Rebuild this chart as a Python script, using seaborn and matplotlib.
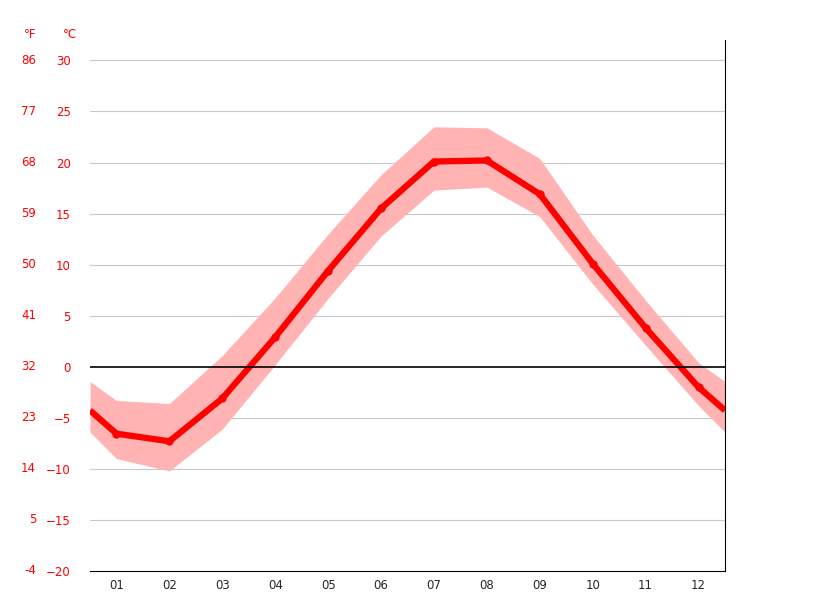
import numpy as np
import matplotlib
matplotlib.use("Agg")
import matplotlib.pyplot as plt
import matplotlib.transforms as mtrans
import seaborn as sns

months = np.arange(1, 13)
month_labels = ["01", "02", "03", "04", "05", "06", "07", "08", "09", "10", "11", "12"]
temp_avg = [-6.55, -7.3, -3.1, 2.9, 9.4, 15.5, 20.1, 20.2, 16.9, 10.1, 3.8, -2.0]
temp_max = [-3.3, -3.6, 1.1, 6.75, 13.0, 18.8, 23.5, 23.4, 20.4, 12.9, 6.5, 0.4]
temp_min = [-9.0, -10.2, -6.1, 0.2, 6.7, 12.8, 17.3, 17.6, 14.7, 8.1, 2.1, -3.8]
c_ticks = [30, 25, 20, 15, 10, 5, 0, -5, -10, -15, -20]
f_ticks = [86, 77, 68, 59, 50, 41, 32, 23, 14, 5, -4]

sns.set_style("white")
plt.rcParams["font.family"] = ["DejaVu Sans"]

# wrap the year around so the curves run to both edges
def wrap(v):
    edge = (v[0] + v[-1]) / 2
    return np.r_[edge, v, edge]

xs = np.r_[0.5, months, 12.5]

fig = plt.figure(figsize=(8.15, 6.11), dpi=100)
ax = fig.add_axes([90 / 815, 40 / 611, 635 / 815, 531 / 611])

ax.fill_between(xs, wrap(temp_min), wrap(temp_max), color="#ffb3b3", lw=0)
ax.plot(xs, wrap(temp_avg), color="red", lw=4.5, solid_capstyle="butt")
sns.lineplot(x=months, y=temp_avg, ax=ax, color="red", lw=0, marker="o",
             markersize=6, markeredgewidth=0)

ax.set_xlim(0.5, 12.5)
ax.set_ylim(-20, 32)
ax.axhline(0, color="black", lw=1.2)
for t in c_ticks[:-1]:
    if t != 0:
        ax.axhline(t, color="#c8c8c8", lw=0.8, zorder=0)

ax.set_yticks(c_ticks)
ax.set_yticklabels([str(t).replace("-", "\u2212") for t in c_ticks], color="red", fontsize=8.5)
ax.tick_params(axis="y", length=0, pad=14)
ax.set_xticks(months)
ax.set_xticklabels(month_labels, fontsize=8.5)
ax.set_xticks(np.arange(0.5, 13, 1), minor=True)
ax.tick_params(axis="x", which="major", length=0, pad=6)
ax.tick_params(axis="x", which="minor", length=5, color="black", width=0.8)

for s in ["left", "top"]:
    ax.spines[s].set_visible(False)
ax.spines["bottom"].set_color("black")
ax.spines["right"].set_color("black")

tr = mtrans.blended_transform_factory(fig.transFigure, ax.transData)
for c, f in zip(c_ticks, f_ticks):
    ax.text(36 / 815, c, str(f), transform=tr, ha="right", va="center",
            color="red", fontsize=8.5)
fig.text(30 / 815, 1 - 35 / 611, "°F", color="red", fontsize=8.5, ha="center", va="center")
fig.text(70 / 815, 1 - 35 / 611, "°C", color="red", fontsize=8.5, ha="center", va="center")

fig.savefig("out.png", dpi=100)
